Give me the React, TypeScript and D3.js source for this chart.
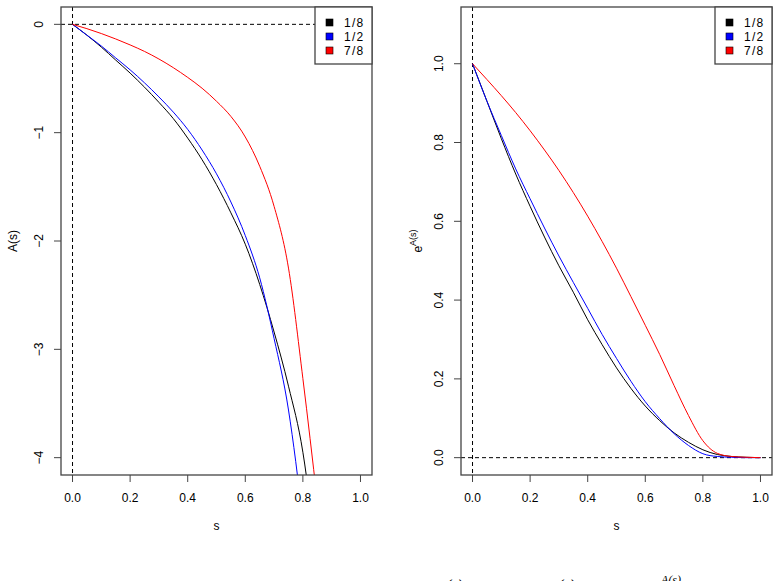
import React, { useEffect, useRef } from "react";
import * as d3 from "d3";

// s grid for the A(s) panel (curves run off the bottom before s = 0.85)
const sLeft = [
  0, 0.05, 0.1, 0.15, 0.2, 0.25, 0.3, 0.35, 0.4, 0.45, 0.5, 0.55, 0.6, 0.65,
  0.7, 0.75, 0.8, 0.85,
];
const aEighth = [
  0, -0.1, -0.21, -0.33, -0.45, -0.58, -0.72, -0.87, -1.05, -1.25, -1.48,
  -1.74, -2.03, -2.4, -2.84, -3.34, -3.95, -5.0,
];
const aHalf = [
  0, -0.1, -0.2, -0.31, -0.42, -0.54, -0.67, -0.81, -0.97, -1.16, -1.38,
  -1.64, -1.95, -2.34, -2.9, -3.56, -4.6, -6.0,
];
const aSevenEighths = [
  0, -0.04, -0.085, -0.135, -0.19, -0.25, -0.32, -0.4, -0.49, -0.59, -0.71,
  -0.85, -1.04, -1.31, -1.68, -2.25, -3.27, -4.4,
];

// s grid for the exp(A(s)) panel
const sRight = [
  0, 0.05, 0.1, 0.15, 0.2, 0.25, 0.3, 0.35, 0.4, 0.45, 0.5, 0.55, 0.6, 0.65,
  0.7, 0.75, 0.8, 0.85, 0.9, 0.95, 1.0,
];
const eEighth = [
  1, 0.905, 0.81, 0.72, 0.638, 0.56, 0.487, 0.42, 0.35, 0.287, 0.228, 0.176,
  0.131, 0.094, 0.063, 0.039, 0.02, 0.008, 0.003, 0.001, 0,
];
const eHalf = [
  1, 0.905, 0.818, 0.733, 0.657, 0.583, 0.512, 0.445, 0.379, 0.313, 0.252,
  0.194, 0.142, 0.099, 0.061, 0.031, 0.01, 0.003, 0.001, 0, 0,
];
const eSevenEighths = [
  1, 0.96, 0.919, 0.876, 0.83, 0.781, 0.729, 0.673, 0.613, 0.549, 0.481,
  0.409, 0.336, 0.262, 0.183, 0.107, 0.043, 0.011, 0.003, 0.001, 0,
];

const seriesLabels = ["1/8", "1/2", "7/8"];
const seriesColors = ["#000000", "#0000ff", "#ff0000"];
const xTicks = [0, 0.2, 0.4, 0.6, 0.8, 1.0];
const leftTicks = [0, -1, -2, -3, -4];
const rightTicks = [0, 0.2, 0.4, 0.6, 0.8, 1.0];

const FONT = "'Liberation Sans', Arial, Helvetica, sans-serif";
const W = 779;
const H = 581;

// R-style 4% axis expansion
const expand = ([a, b]: [number, number]): [number, number] => {
  const pad = (b - a) * 0.04;
  return [a - pad, b + pad];
};

interface PanelOpts {
  id: string;
  left: number;
  ylim: [number, number];
  yTicks: number[];
  yFormat: (v: number) => string;
  s: number[];
  series: number[][];
  refY: number; // horizontal dashed reference line
  ylab: (g: d3.Selection<SVGGElement, unknown, null, undefined>, x: number, y: number) => void;
}

function drawPanel(
  svg: d3.Selection<SVGSVGElement, unknown, null, undefined>,
  o: PanelOpts
) {
  const top = 7;
  const bottom = 475;
  const width = 311;
  const right = o.left + width;

  const x = d3.scaleLinear().domain(expand([0, 1])).range([o.left, right]);
  const y = d3.scaleLinear().domain(expand(o.ylim)).range([bottom, top]);

  const g = svg.append("g");

  g.append("clipPath")
    .attr("id", o.id)
    .append("rect")
    .attr("x", o.left)
    .attr("y", top)
    .attr("width", width)
    .attr("height", bottom - top);

  // dashed reference lines at s = 0 and the baseline value
  g.append("line")
    .attr("x1", o.left)
    .attr("x2", right)
    .attr("y1", y(o.refY))
    .attr("y2", y(o.refY))
    .attr("stroke", "#000")
    .attr("stroke-dasharray", "4,3");
  g.append("line")
    .attr("x1", x(0))
    .attr("x2", x(0))
    .attr("y1", top)
    .attr("y2", bottom)
    .attr("stroke", "#000")
    .attr("stroke-dasharray", "4,3");

  const line = d3
    .line<number>()
    .x((_, i) => x(o.s[i]))
    .y(d => y(d))
    .curve(d3.curveMonotoneX);

  const curves = g.append("g").attr("clip-path", `url(#${o.id})`);
  o.series.forEach((vals, k) => {
    curves
      .append("path")
      .attr("d", line(vals)!)
      .attr("fill", "none")
      .attr("stroke", seriesColors[k])
      .attr("stroke-width", 1);
  });

  // frame
  g.append("rect")
    .attr("x", o.left)
    .attr("y", top)
    .attr("width", width)
    .attr("height", bottom - top)
    .attr("fill", "none")
    .attr("stroke", "#444")
    .attr("stroke-width", 1.3);

  // x axis
  xTicks.forEach(t => {
    g.append("line")
      .attr("x1", x(t))
      .attr("x2", x(t))
      .attr("y1", bottom)
      .attr("y2", bottom + 7)
      .attr("stroke", "#444");
    g.append("text")
      .attr("x", x(t))
      .attr("y", bottom + 26.5)
      .attr("text-anchor", "middle")
      .style("font-family", FONT)
      .style("font-size", "12px")
      .text(d3.format(".1f")(t));
  });
  g.append("text")
    .attr("x", (o.left + right) / 2)
    .attr("y", 530)
    .attr("text-anchor", "middle")
    .style("font-family", FONT)
    .style("font-size", "12px")
    .text("s");

  // y axis
  o.yTicks.forEach(t => {
    g.append("line")
      .attr("x1", o.left - 7)
      .attr("x2", o.left)
      .attr("y1", y(t))
      .attr("y2", y(t))
      .attr("stroke", "#444");
    g.append("text")
      .attr("transform", `translate(${o.left - 18.3},${y(t)}) rotate(-90)`)
      .attr("text-anchor", "middle")
      .style("font-family", FONT)
      .style("font-size", "12px")
      .text(o.yFormat(t));
  });
  o.ylab(g, o.left - 44.5, (top + bottom) / 2);

  // legend
  const lg = g.append("g");
  lg.append("rect")
    .attr("x", right - 57)
    .attr("y", top)
    .attr("width", 57)
    .attr("height", 57)
    .attr("fill", "#fff")
    .attr("stroke", "#444")
    .attr("stroke-width", 1.3);
  seriesLabels.forEach((lab, k) => {
    const ry = top + 15.5 + k * 14;
    lg.append("rect")
      .attr("x", right - 46)
      .attr("y", ry - 3.5)
      .attr("width", 7)
      .attr("height", 7)
      .attr("fill", seriesColors[k])
      .attr("stroke", "#000")
      .attr("stroke-width", 0.6);
    lg.append("text")
      .attr("x", right - 28)
      .attr("y", ry)
      .attr("dy", "0.36em")
      .style("font-family", FONT)
      .style("font-size", "12px")
      .style("letter-spacing", "1.3px")
      .text(lab);
  });
}

const App: React.FC = () => {
  const svgRef = useRef<SVGSVGElement>(null);

  useEffect(() => {
    if (!svgRef.current) return;
    const svg = d3.select(svgRef.current);
    svg.selectAll("*").remove();

    svg
      .append("rect")
      .attr("width", W)
      .attr("height", H)
      .attr("fill", "#fff");

    drawPanel(svg, {
      id: "clip-a",
      left: 61,
      ylim: [-4, 0],
      yTicks: leftTicks,
      yFormat: d3.format("d"),
      s: sLeft,
      series: [aEighth, aHalf, aSevenEighths],
      refY: 0,
      ylab: (g, lx, ly) => {
        g.append("text")
          .attr("transform", `translate(${lx},${ly}) rotate(-90)`)
          .attr("text-anchor", "middle")
          .style("font-family", FONT)
          .style("font-size", "12px")
          .text("A(s)");
      },
    });

    drawPanel(svg, {
      id: "clip-e",
      left: 461,
      ylim: [0, 1.1],
      yTicks: rightTicks,
      yFormat: d3.format(".1f"),
      s: sRight,
      series: [eEighth, eHalf, eSevenEighths],
      refY: 0,
      ylab: (g, lx, ly) => {
        const t = g
          .append("text")
          .attr("transform", `translate(${lx + 5},${ly}) rotate(-90)`)
          .attr("text-anchor", "middle")
          .style("font-family", FONT)
          .style("font-size", "12px");
        t.append("tspan").text("e");
        t.append("tspan")
          .attr("dy", "-6")
          .style("font-size", "9px")
          .text("A(s)");
      },
    });

    // caption running off the bottom edge
    const cap = svg
      .append("g")
      .style("font-family", "'Liberation Serif', 'DejaVu Serif', serif")
      .style("font-style", "italic");
    cap.append("text").attr("x", 438).attr("y", 591).style("font-size", "16px").text("u(s)");
    cap.append("text").attr("x", 551).attr("y", 591).style("font-size", "16px").text("v(s) = e");
    cap.append("text").attr("x", 661).attr("y", 584).style("font-size", "12px").text("A(s)");
  }, []);

  return (
    <svg
      ref={svgRef}
      width={W}
      height={H}
      style={{ position: "absolute", left: 0, top: 0, display: "block" }}
    />
  );
};

export default App;
